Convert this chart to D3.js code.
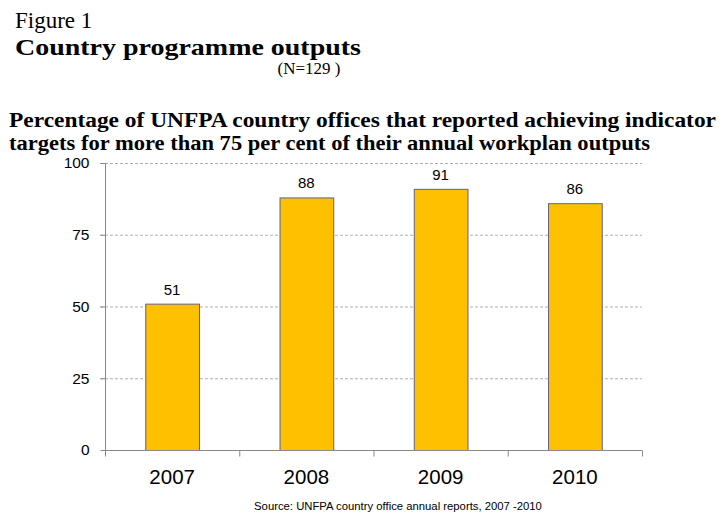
<!DOCTYPE html>
<html>
<head>
<meta charset="utf-8">
<script src="https://cdn.jsdelivr.net/npm/d3@7"></script>
<style>
  body { margin: 0; background: #fff; }
</style>
</head>
<body>
<div id="root"></div>
<script>
const years = ['2007', '2008', '2009', '2010']
const values = [51, 88, 91, 86]
const yTicks = [0, 25, 50, 75, 100]

const width = 721
const height = 518
const margin = { top: 163, right: 79, bottom: 70, left: 105 }

const svg = d3.select('#root').append('svg')
  .attr('width', width)
  .attr('height', height)

// titles
svg.append('text')
  .attr('x', 15).attr('y', 28)
  .attr('font-family', 'Liberation Serif')
  .attr('font-size', 23)
  .text('Figure 1')

svg.append('text')
  .attr('x', 15).attr('y', 55)
  .attr('font-family', 'Liberation Serif')
  .attr('font-weight', 'bold')
  .attr('font-size', 23)
  .attr('textLength', 346)
  .attr('lengthAdjust', 'spacingAndGlyphs')
  .text('Country programme outputs')

svg.append('text')
  .attr('x', 309).attr('y', 74)
  .attr('text-anchor', 'middle')
  .attr('font-family', 'Liberation Serif')
  .attr('font-size', 17)
  .text('(N=129 )')

const sub = [
  'Percentage of UNFPA country offices that  reported achieving  indicator',
  'targets for more than 75 per cent of their annual workplan outputs'
]
const subLen = [707, 641]
sub.forEach((s, i) => {
  svg.append('text')
    .attr('x', 9).attr('y', 127 + i * 23)
    .attr('font-family', 'Liberation Serif')
    .attr('font-weight', 'bold')
    .attr('font-size', 20)
    .attr('textLength', subLen[i])
    .attr('lengthAdjust', 'spacingAndGlyphs')
    .text(s)
})

const innerW = width - margin.left - margin.right
const innerH = height - margin.top - margin.bottom + 3

const x = d3.scaleBand().domain(years).range([margin.left, margin.left + innerW]).paddingInner(0.6).paddingOuter(0.3)
const xb = d3.scaleBand().domain(years).range([margin.left, margin.left + innerW])
const y = d3.scaleLinear().domain([0, 100]).range([margin.top + innerH - 1, margin.top])

// grid
svg.append('g')
  .selectAll('line')
  .data(yTicks.filter(d => d > 0))
  .join('line')
  .attr('x1', margin.left - 5)
  .attr('x2', margin.left + innerW)
  .attr('y1', d => y(d) + 0.5)
  .attr('y2', d => y(d) + 0.5)
  .attr('stroke', '#b0b0b0')
  .attr('stroke-dasharray', '3,2')

// y axis
const yAxis = svg.append('g')
  .attr('transform', `translate(${margin.left + 0.5},0)`)
  .call(d3.axisLeft(y).tickValues(yTicks).tickSize(5).tickPadding(11))
yAxis.select('.domain').attr('stroke', '#888').attr('d', `M0,${y(0)}V${y(100)}`)
yAxis.selectAll('.tick line').attr('stroke', '#888')
yAxis.selectAll('text')
  .attr('font-family', 'Liberation Sans')
  .attr('font-size', 15.5)
  .attr('fill', '#000')

// bars
svg.append('g')
  .selectAll('rect')
  .data(values)
  .join('rect')
  .attr('x', (d, i) => x(years[i]) + 0.5)
  .attr('y', d => y(d) + 0.5)
  .attr('width', x.bandwidth())
  .attr('height', d => y(0) - y(d))
  .attr('fill', '#ffc000')
  .attr('stroke', '#5f5f8f')
  .attr('stroke-width', 1)

// value labels
svg.append('g')
  .selectAll('text')
  .data(values)
  .join('text')
  .attr('x', (d, i) => x(years[i]) + x.bandwidth() / 2)
  .attr('y', d => y(d) - 9)
  .attr('text-anchor', 'middle')
  .attr('font-family', 'Liberation Sans')
  .attr('font-size', 15)
  .text(d => d)

// x axis
const xAxis = svg.append('g')
  .attr('transform', `translate(0,${y(0) + 0.5})`)
  .call(d3.axisBottom(xb).tickSize(0).tickPadding(19))
xAxis.select('.domain').attr('stroke', '#888').attr('d', `M${margin.left},0H${margin.left + innerW}`)
xAxis.selectAll('text')
  .attr('font-family', 'Liberation Sans')
  .attr('font-size', 20.5)
  .attr('fill', '#000')
xAxis.append('g')
  .selectAll('line')
  .data(years.concat(['end']))
  .join('line')
  .attr('x1', (d, i) => margin.left + i * xb.bandwidth() + 0.5)
  .attr('x2', (d, i) => margin.left + i * xb.bandwidth() + 0.5)
  .attr('y1', 0).attr('y2', 6)
  .attr('stroke', '#888')

svg.append('text')
  .attr('x', 398).attr('y', 510)
  .attr('text-anchor', 'middle')
  .attr('font-family', 'Liberation Sans')
  .attr('font-size', 11.3)
  .text('Source: UNFPA country office annual reports, 2007 -2010')
</script>
</body>
</html>
